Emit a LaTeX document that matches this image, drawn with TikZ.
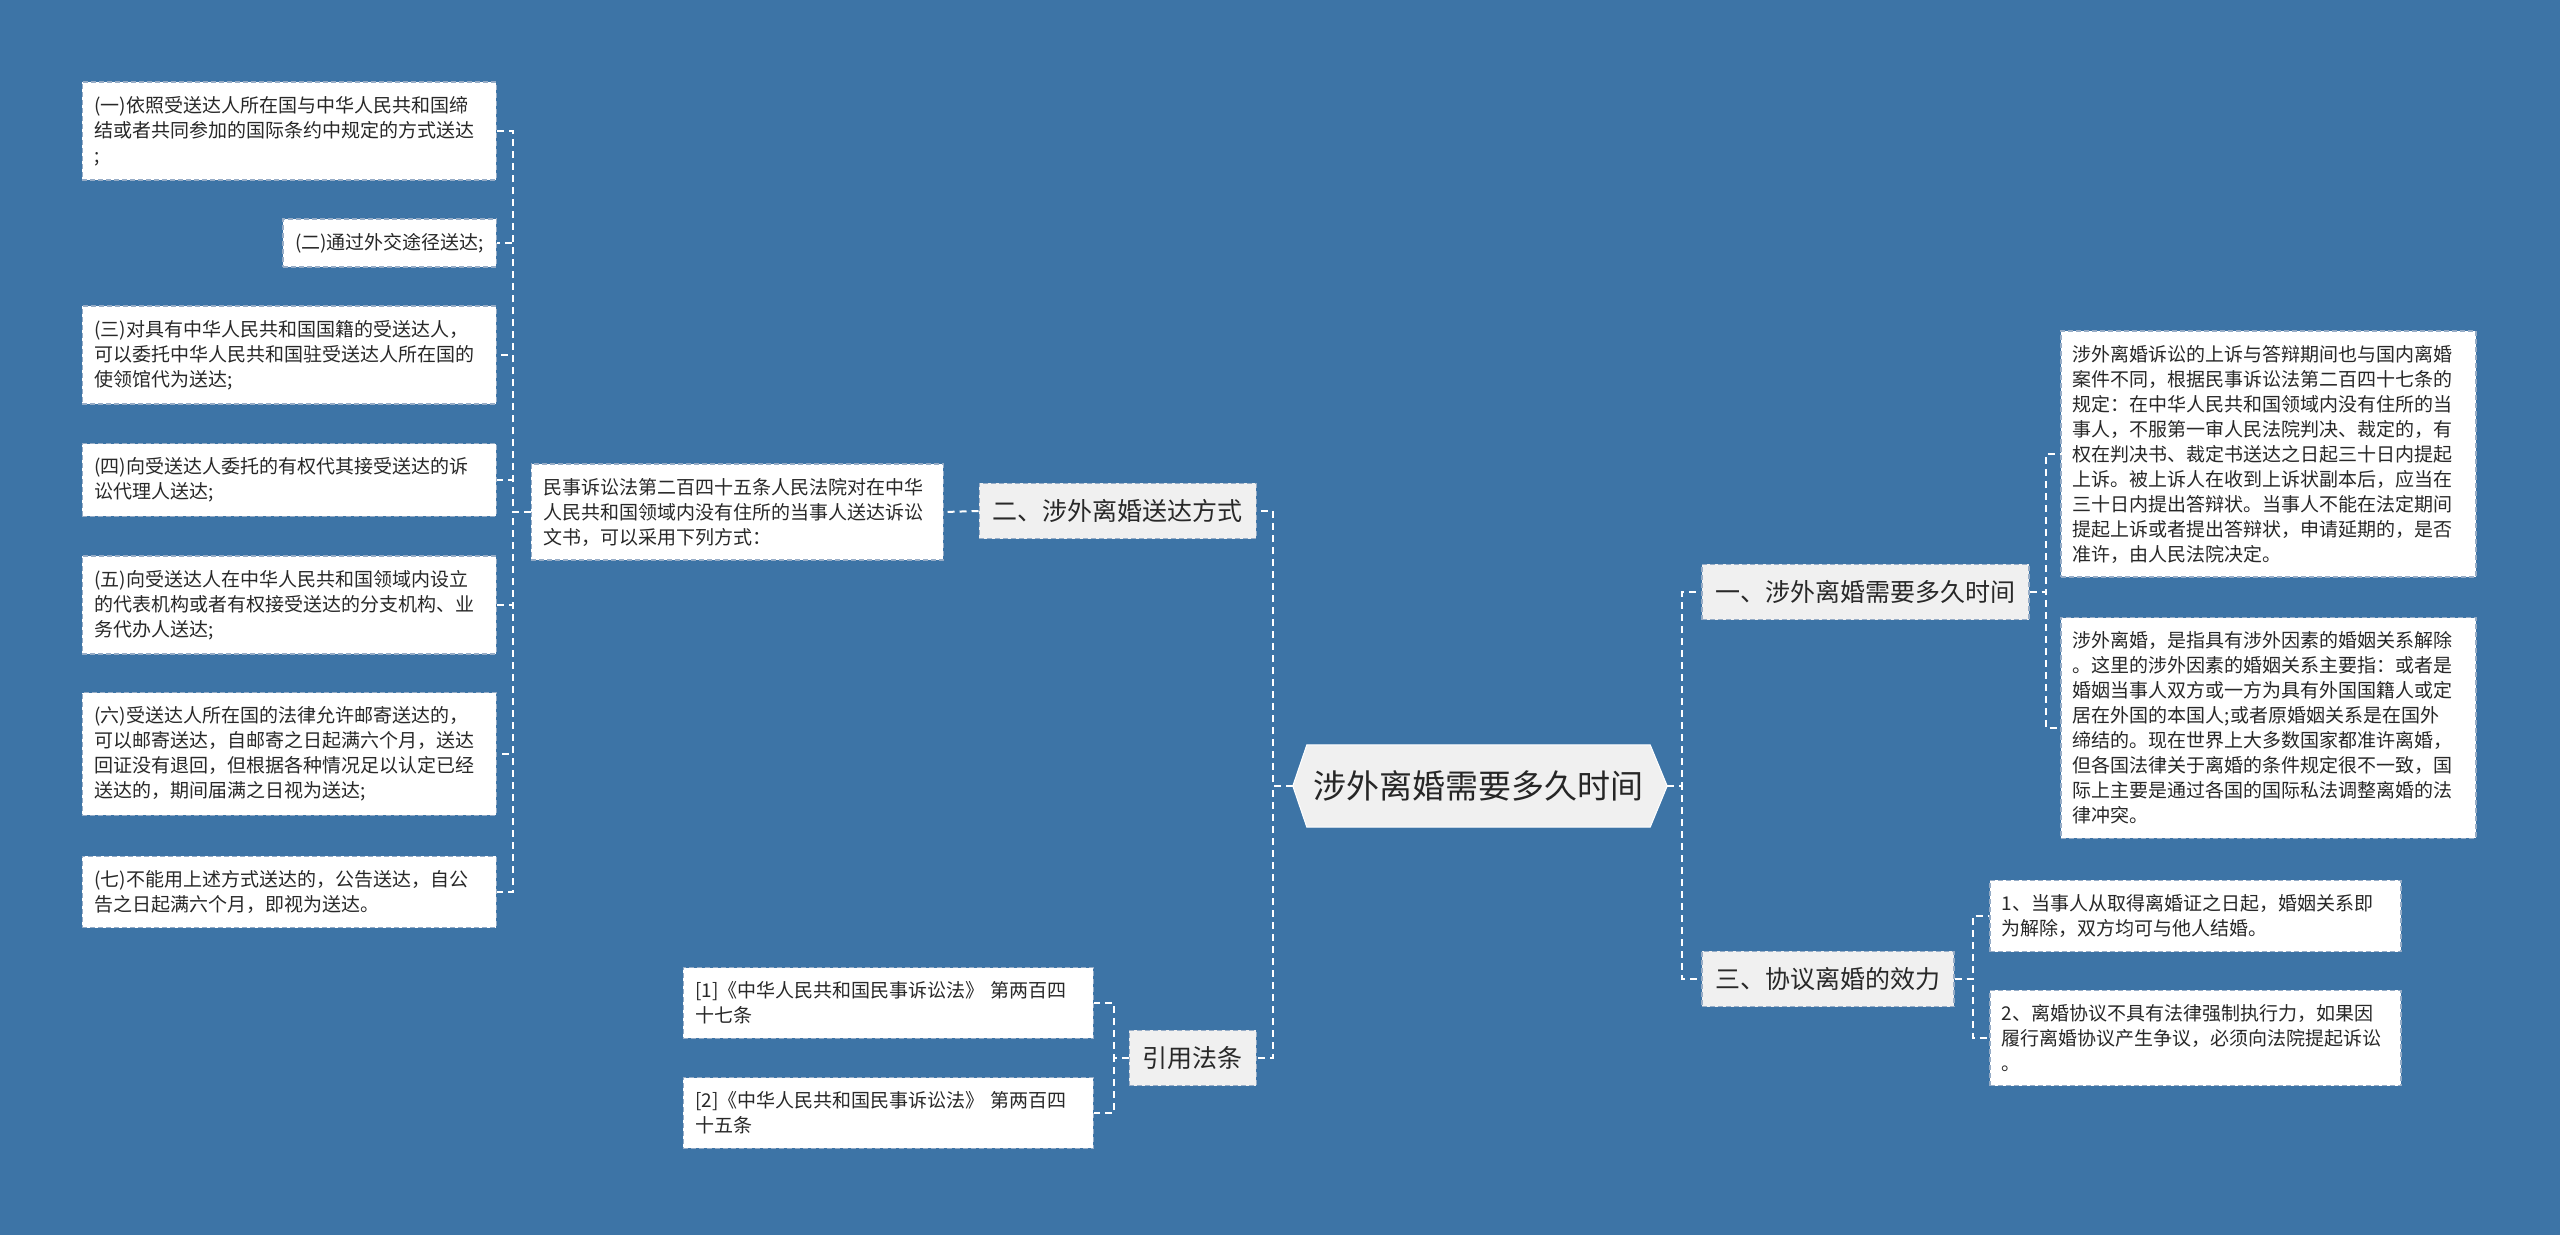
\documentclass[tikz,border=0pt]{standalone}
\usepackage{fontspec}
\setmainfont{Noto Sans CJK SC}
\usetikzlibrary{backgrounds,calc}
\definecolor{bgblue}{RGB}{61,116,166}
\definecolor{boxline}{RGB}{150,172,198}
\definecolor{branchfill}{RGB}{240,240,240}
\definecolor{inktext}{RGB}{40,40,40}
\tikzset{
  leaf/.style={fill=white, draw=boxline, dash pattern=on 5pt off 3pt, line width=1.5pt,
    inner xsep=12pt, inner ysep=14pt, align=left, text=inktext,
    font=\fontsize{19}{25}\selectfont},
  branch/.style={fill=branchfill, draw=boxline, dash pattern=on 5pt off 3pt, line width=1.5pt,
    inner xsep=13.5pt, inner ysep=16pt, text=inktext,
    font=\fontsize{25}{30}\selectfont},
  link/.style={draw=white, dash pattern=on 7pt off 5pt, line width=2pt},
}

\begin{document}
\begin{tikzpicture}[x=1pt,y=-1pt]
\useasboundingbox (0,0) rectangle (2560,1235);

% root
\node[font=\fontsize{33}{36}\selectfont, text=black!85, minimum width=343pt, minimum height=82pt, inner sep=0pt] (root) at (1478.5,786) {涉外离婚需要多久时间};
\coordinate (rootW) at ([xshift=-14pt]root.west);
\coordinate (rootE) at ([xshift=17pt]root.east);
\begin{scope}[on background layer]
  \fill[bgblue] (0,0) rectangle (2560,1235);
  \filldraw[fill=branchfill, draw=white, line width=1pt] (root.north west) -- (root.north east) -- (rootE)
    -- (root.south east) -- (root.south west) -- (rootW) -- cycle;
\end{scope}

% left branch: delivery
\node[branch, anchor=east] (b2) at (1257,511) {二、涉外离婚送达方式};
\node[leaf, anchor=east, text width=388pt] (mid) at (944,512) {民事诉讼法第二百四十五条人民法院对在中华\\人民共和国领域内没有住所的当事人送达诉讼\\文书，可以采用下列方式：};
\node[leaf, anchor=east, text width=390pt] (l1) at (497,131) {(一)依照受送达人所在国与中华人民共和国缔\\结或者共同参加的国际条约中规定的方式送达\\;};
\node[leaf, anchor=east] (l2) at (497,243) {(二)通过外交途径送达;};
\node[leaf, anchor=east, text width=390pt] (l3) at (497,355) {(三)对具有中华人民共和国国籍的受送达人，\\可以委托中华人民共和国驻受送达人所在国的\\使领馆代为送达;};
\node[leaf, anchor=east, text width=390pt] (l4) at (497,480) {(四)向受送达人委托的有权代其接受送达的诉\\讼代理人送达;};
\node[leaf, anchor=east, text width=390pt] (l5) at (497,605) {(五)向受送达人在中华人民共和国领域内设立\\的代表机构或者有权接受送达的分支机构、业\\务代办人送达;};
\node[leaf, anchor=east, text width=390pt] (l6) at (497,754) {(六)受送达人所在国的法律允许邮寄送达的，\\可以邮寄送达，自邮寄之日起满六个月，送达\\回证没有退回，但根据各种情况足以认定已经\\送达的，期间届满之日视为送达;};
\node[leaf, anchor=east, text width=390pt] (l7) at (497,892) {(七)不能用上述方式送达的，公告送达，自公\\告之日起满六个月，即视为送达。};

% left branch: cited law
\node[branch, anchor=east] (b4) at (1257,1058) {引用法条};
\node[leaf, anchor=east, text width=386pt] (c1) at (1094,1003) {[1]《中华人民共和国民事诉讼法》 第两百四\\十七条};
\node[leaf, anchor=east, text width=386pt] (c2) at (1094,1113) {[2]《中华人民共和国民事诉讼法》 第两百四\\十五条};

% right branch: duration
\node[branch, anchor=west] (b1) at (1701,592) {一、涉外离婚需要多久时间};
\node[leaf, anchor=west, text width=391pt] (r1) at (2060,454) {涉外离婚诉讼的上诉与答辩期间也与国内离婚\\案件不同，根据民事诉讼法第二百四十七条的\\规定：在中华人民共和国领域内没有住所的当\\事人，不服第一审人民法院判决、裁定的，有\\权在判决书、裁定书送达之日起三十日内提起\\上诉。被上诉人在收到上诉状副本后，应当在\\三十日内提出答辩状。当事人不能在法定期间\\提起上诉或者提出答辩状，申请延期的，是否\\准许，由人民法院决定。};
\node[leaf, anchor=west, text width=391pt] (r2) at (2060,728) {涉外离婚，是指具有涉外因素的婚姻关系解除\\。这里的涉外因素的婚姻关系主要指：或者是\\婚姻当事人双方或一方为具有外国国籍人或定\\居在外国的本国人;或者原婚姻关系是在国外\\缔结的。现在世界上大多数国家都准许离婚，\\但各国法律关于离婚的条件规定很不一致，国\\际上主要是通过各国的国际私法调整离婚的法\\律冲突。};

% right branch: agreement
\node[branch, anchor=west] (b3) at (1701,979) {三、协议离婚的效力};
\node[leaf, anchor=west, text width=387pt] (s1) at (1989,916) {1、当事人从取得离婚证之日起，婚姻关系即\\为解除，双方均可与他人结婚。};
\node[leaf, anchor=west, text width=387pt] (s2) at (1989,1038) {2、离婚协议不具有法律强制执行力，如果因\\履行离婚协议产生争议，必须向法院提起诉讼\\。};

% connectors
\foreach \n in {b2,b4}
  \draw[link] (rootW) -- ++(-20,0) |- (\n.east);
\foreach \n in {b1,b3}
  \draw[link] (rootE) -- ++(15,0) |- (\n.west);
\draw[link] (b2.west) -- (mid.east);
\foreach \n in {l1,l2,l3,l4,l5,l6,l7}
  \draw[link] (mid.west) -- ++(-18,0) |- (\n.east);
\foreach \n in {c1,c2}
  \draw[link] (b4.west) -- ++(-15,0) |- (\n.east);
\foreach \n in {r1,r2}
  \draw[link] (b1.east) -- ++(16,0) |- (\n.west);
\foreach \n in {s1,s2}
  \draw[link] (b3.east) -- ++(18,0) |- (\n.west);
\end{tikzpicture}
\end{document}
